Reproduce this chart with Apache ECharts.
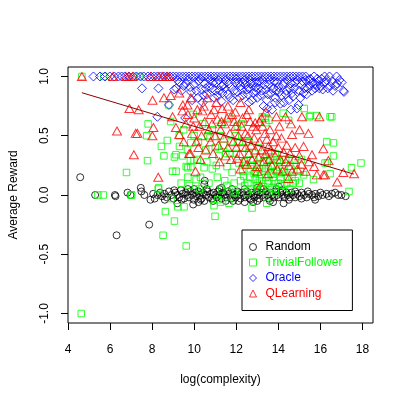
<!DOCTYPE html>
<html>
<head>
<meta charset="utf-8">
<script src="https://cdn.jsdelivr.net/npm/echarts@6/dist/echarts.min.js"></script>
<style>
  html, body { margin: 0; padding: 0; background: #fff; }
  #main { width: 407px; height: 407px; }
</style>
</head>
<body>
<div id="main"></div>
<script>
var xTicks = [4, 6, 8, 10, 12, 14, 16, 18];
var yTicks = [-1, -0.5, 0, 0.5, 1];
var seriesNames = ["Random", "TrivialFollower", "Oracle", "QLearning"];

// [log(complexity), average reward]
var randomPts = [
  [4.58,0.15],[5.29,0.00],[6.23,0.00],[6.26,-0.01],[6.31,-0.34],[6.83,0.02],[6.97,0.00],[7.46,0.06],
  [7.49,0.03],[7.63,0.00],[7.86,-0.25],[7.92,-0.04],[8.05,0.01],[8.12,-0.03],[8.25,0.00],[8.38,0.02],
  [8.47,-0.01],[8.58,0.01],[8.6,-0.04],[8.7,-0.02],[8.8,0.03],[8.92,0.00],[9.02,-0.03],[9.05,0.04],
  [9.1,0.02],[9.2,0.00],[9.2,-0.07],[9.29,-0.02],[9.37,0.04],[9.4,-0.04],[9.45,0.01],[9.52,-0.03],
  [9.6,0.02],[9.68,0.00],[9.7,0.05],[9.75,-0.02],[9.82,0.03],[9.9,0.00],[9.95,-0.08],[9.98,-0.04],
  [10.0,0.05],[10.05,0.02],[10.12,-0.01],[10.2,0.03],[10.2,-0.06],[10.27,0.00],[10.3,-0.04],[10.35,-0.03],
  [10.42,0.02],[10.48,-0.05],[10.48,0.09],[10.5,0.12],[10.56,0.00],[10.6,0.05],[10.63,0.03],[10.7,-0.02],
  [10.78,0.01],[10.85,-0.03],[10.9,-0.05],[10.92,0.02],[11.0,0.00],[11.07,-0.02],[11.14,0.03],[11.2,0.05],
  [11.22,0.00],[11.3,-0.03],[11.3,0.06],[11.37,0.02],[11.45,0.00],[11.5,-0.05],[11.52,-0.02],[11.6,0.03],
  [11.67,0.01],[11.75,-0.03],[11.8,0.05],[11.82,0.02],[11.85,-0.05],[11.9,0.00],[11.97,-0.02],[12.05,0.03],
  [12.1,-0.05],[12.12,0.00],[12.2,-0.03],[12.27,0.02],[12.35,0.00],[12.4,-0.06],[12.4,0.05],[12.42,-0.02],
  [12.5,0.03],[12.57,0.00],[12.65,-0.03],[12.7,-0.04],[12.72,0.02],[12.8,0.00],[12.8,-0.06],[12.87,-0.02],
  [12.95,0.03],[13.0,0.06],[13.0,-0.05],[13.02,0.00],[13.1,-0.03],[13.17,0.02],[13.25,0.00],[13.3,0.05],
  [13.32,-0.02],[13.4,0.03],[13.47,0.00],[13.55,-0.03],[13.6,-0.05],[13.62,0.02],[13.7,0.00],[13.75,-0.06],
  [13.8,-0.02],[13.87,0.03],[13.9,0.05],[13.95,0.00],[14.02,0.07],[14.02,-0.02],[14.1,0.02],[14.18,0.00],
  [14.2,0.04],[14.25,-0.07],[14.3,-0.02],[14.38,0.02],[14.45,0.00],[14.5,-0.04],[14.55,-0.02],[14.62,0.02],
  [14.7,0.00],[14.8,-0.02],[14.8,0.03],[14.9,0.01],[15.0,-0.01],[15.1,0.02],[15.1,-0.03],[15.22,0.00],
  [15.35,-0.02],[15.4,0.03],[15.45,0.01],[15.6,0.00],[15.7,-0.02],[15.75,-0.04],[15.75,0.01],[15.9,-0.01],
  [16.0,0.02],[16.1,0.00],[16.3,0.01],[16.4,-0.01],[16.54,0.01],[16.7,0.02],[16.85,0.00],[17.0,0.00],
  [17.2,-0.01]
];

var trivialPts = [
  [4.63,-1.0],[4.66,1.0],[5.42,0.0],[5.68,0.0],[5.7,1.0],[6.78,0.19],[6.99,0.0],[7.03,0.0],
  [7.4,1.0],[7.74,0.5],[7.78,0.29],[7.81,0.6],[8.29,0.05],[8.31,0.06],[8.44,0.41],[8.52,-0.34],
  [8.56,0.33],[8.63,-0.14],[8.72,0.46],[8.78,0.76],[8.88,0.62],[8.9,-0.03],[8.97,0.2],[9.06,0.32],
  [9.06,-0.22],[9.13,0.34],[9.14,0.2],[9.22,-0.1],[9.29,0.5],[9.3,0.41],[9.38,0.1],[9.44,0.33],
  [9.5,0.55],[9.52,-0.1],[9.62,0.24],[9.62,-0.43],[9.68,0.38],[9.69,0.23],[9.7,0.15],[9.76,0.08],
  [9.82,0.29],[9.84,0.44],[9.84,0.24],[9.95,0.68],[9.99,0.29],[10.0,0.5],[10.09,0.13],[10.15,0.3],
  [10.2,0.45],[10.25,0.05],[10.3,0.15],[10.38,0.07],[10.4,0.6],[10.47,0.23],[10.55,0.38],[10.6,0.28],
  [10.65,0.5],[10.7,0.1],[10.75,0.48],[10.86,0.22],[10.86,0.55],[10.94,-0.09],[10.99,-0.18],[11.0,0.4],
  [11.05,0.25],[11.1,0.15],[11.11,-0.04],[11.17,0.33],[11.25,0.5],[11.25,-0.06],[11.3,0.05],[11.3,0.6],
  [11.4,0.42],[11.45,0.12],[11.5,0.35],[11.55,0.08],[11.56,0.24],[11.65,0.66],[11.65,-0.07],[11.7,0.35],
  [11.75,0.45],[11.8,0.19],[11.85,0.02],[11.9,0.1],[11.95,0.5],[11.96,0.02],[12.0,0.35],[12.05,0.58],
  [12.12,0.27],[12.15,0.45],[12.2,0.12],[12.25,0.6],[12.3,0.4],[12.3,0.2],[12.35,0.16],[12.4,0.28],
  [12.4,0.08],[12.45,0.25],[12.51,0.02],[12.55,0.1],[12.6,0.35],[12.6,0.45],[12.65,0.15],[12.67,0.22],
  [12.7,0.05],[12.75,0.25],[12.75,-0.11],[12.8,0.3],[12.85,0.18],[12.9,0.13],[12.9,0.2],[12.95,0.08],
  [13.0,0.25],[13.0,0.1],[13.05,0.4],[13.1,0.12],[13.1,0.22],[13.15,0.32],[13.2,0.05],[13.22,0.17],
  [13.24,0.66],[13.3,0.07],[13.3,0.28],[13.35,0.2],[13.37,0.65],[13.4,0.61],[13.4,0.15],[13.45,0.02],
  [13.45,-0.07],[13.45,0.28],[13.5,0.1],[13.53,0.22],[13.53,0.36],[13.55,0.63],[13.55,0.12],[13.6,0.3],
  [13.65,0.18],[13.65,0.25],[13.7,0.06],[13.75,0.25],[13.75,0.15],[13.8,0.12],[13.85,0.35],[13.85,0.05],
  [13.86,0.02],[13.9,0.2],[13.95,0.3],[14.0,0.1],[14.05,0.28],[14.05,0.18],[14.1,0.15],[14.15,0.08],
  [14.2,0.22],[14.23,0.69],[14.25,0.2],[14.3,0.08],[14.35,0.3],[14.4,0.1],[14.45,0.15],[14.49,0.63],
  [14.5,0.3],[14.55,0.05],[14.6,0.22],[14.65,0.15],[14.7,0.1],[14.8,0.12],[14.85,0.25],[15.0,0.1],
  [15.04,0.2],[15.1,0.3],[15.2,0.17],[15.23,0.73],[15.48,0.66],[15.52,0.67],[15.67,0.13],[15.83,0.67],
  [16.22,0.27],[16.3,0.45],[16.33,0.27],[16.46,0.66],[16.46,0.18],[16.54,0.66],[16.62,0.44],[16.62,0.33],
  [17.36,0.03],[17.48,0.23],[17.93,0.27]
];

var oraclePts = [
  [5.21,1],[5.52,1],[5.76,1],[5.99,1],[6.2,1],[6.4,1],[6.55,1],[6.7,1],[6.9,1],[7.1,1],[7.25,1],
  [7.45,1],[7.6,1],[7.8,1],[7.95,1],[8.1,1],[8.25,1],[8.4,1],[8.55,1],[8.7,1],[8.85,1],[9.0,1],
  [9.15,1],[9.3,1],[9.45,1],[9.6,1],[9.75,1],[9.9,1],[10.05,1],[10.2,1],[10.35,1],[10.5,1],[10.65,1],
  [10.8,1],[10.95,1],[11.1,1],[11.25,1],[11.4,1],[11.55,1],[11.7,1],[11.85,1],[12.0,1],[12.15,1],
  [12.3,1],[12.45,1],[12.6,1],[12.75,1],[12.9,1],[13.05,1],[13.2,1],[13.35,1],[13.5,1],[13.65,1],
  [13.8,1],[13.95,1],[14.1,1],[14.25,1],[14.4,1],[14.55,1],[14.7,1],[14.85,1],[15.0,1],[15.15,1],
  [15.3,1],[15.52,0.98],[15.7,1],[16.2,1],[16.43,1],[16.77,1],
  [7.52,0.9],[8.3,0.9],[8.8,0.76],[8.25,0.66],[9.15,0.9],[9.05,0.89],[9.2,0.97],[9.3,0.95],[9.4,0.88],
  [9.5,0.92],[9.57,0.65],[9.6,0.94],[9.7,0.97],[9.8,0.91],[9.85,0.87],[9.9,0.8],[10.0,0.93],[10.1,0.88],
  [10.17,0.82],[10.2,0.96],[10.3,0.98],[10.35,0.89],[10.4,0.78],[10.45,0.84],[10.5,0.94],[10.55,0.9],
  [10.6,0.85],[10.7,0.92],[10.75,0.97],[10.85,0.9],[10.9,0.95],[10.95,0.82],[11.0,0.88],[11.05,0.95],
  [11.1,0.84],[11.15,0.97],[11.2,0.88],[11.3,0.79],[11.3,0.92],[11.35,0.86],[11.4,0.93],[11.45,0.9],
  [11.5,0.97],[11.6,0.85],[11.65,0.94],[11.7,0.82],[11.75,0.91],[11.85,0.8],[11.9,0.88],[11.95,0.95],
  [12.0,0.98],[12.05,0.87],[12.1,0.95],[12.15,0.82],[12.2,0.92],[12.25,0.89],[12.3,0.84],[12.3,0.95],
  [12.4,0.97],[12.45,0.93],[12.5,0.89],[12.55,0.85],[12.6,0.78],[12.6,0.9],[12.65,0.97],[12.7,0.94],
  [12.75,0.8],[12.8,0.86],[12.85,0.95],[12.9,0.91],[12.95,0.87],[13.0,0.82],[13.0,0.95],[13.05,0.9],
  [13.1,0.96],[13.15,0.84],[13.2,0.88],[13.25,0.97],[13.3,0.75],[13.35,0.93],[13.4,0.89],[13.45,0.8],
  [13.47,0.73],[13.5,0.85],[13.55,0.93],[13.6,0.97],[13.65,0.86],[13.7,0.72],[13.75,0.9],[13.8,0.96],
  [13.85,0.82],[13.85,0.78],[13.9,0.88],[13.95,0.95],[14.0,0.91],[14.05,0.87],[14.1,0.77],[14.15,0.84],
  [14.2,0.93],[14.26,0.78],[14.3,0.95],[14.35,0.85],[14.4,0.88],[14.45,0.97],[14.5,0.8],[14.55,0.9],
  [14.6,0.72],[14.6,0.94],[14.65,0.86],[14.7,0.83],[14.75,0.9],[14.8,0.95],[14.88,0.73],[14.9,0.97],
  [14.96,0.76],[15.0,0.88],[15.05,0.82],[15.1,0.93],[15.15,0.96],[15.2,0.86],[15.25,0.9],[15.3,0.97],
  [15.35,0.85],[15.4,0.9],[15.45,0.97],[15.5,0.92],[15.6,0.88],[15.65,0.95],[15.75,0.9],[15.8,0.93],
  [15.85,0.98],[15.9,0.96],[15.95,0.9],[16.0,0.92],[16.05,0.98],[16.11,0.89],[16.2,0.95],[16.3,0.97],
  [16.35,0.9],[16.46,0.92],[16.55,0.96],[16.6,0.88],[16.7,0.92],[16.8,0.94],[16.9,0.97],[17.01,0.95],
  [17.09,0.88],[17.12,0.87]
];

var qlearnPts = [
  [4.66,1],[6.14,1],[6.75,1],[6.9,1],[7.07,1],[7.92,1],[8.32,1],[8.5,1],[8.7,1],[8.81,1],
  [6.33,0.54],[6.92,0.73],[7.13,0.34],[7.22,0.52],[7.3,0.52],[7.36,0.72],[8.01,0.5],[8.02,0.8],
  [8.06,0.57],[8.29,0.15],[8.56,0.82],[8.88,0.84],[8.97,0.66],[9.13,0.57],[9.29,0.51],[9.29,0.86],
  [9.44,0.71],[9.46,0.76],[9.5,0.45],[9.6,0.6],[9.68,0.76],[9.7,0.68],[9.76,0.35],[9.82,0.35],
  [9.84,0.82],[9.9,0.52],[9.95,0.58],[10.0,0.65],[10.06,0.2],[10.1,0.45],[10.15,0.72],[10.2,0.4],
  [10.25,0.58],[10.3,0.3],[10.35,0.5],[10.39,0.71],[10.45,0.75],[10.5,0.62],[10.55,0.38],[10.62,0.82],
  [10.7,0.55],[10.78,0.45],[10.8,0.68],[10.85,0.6],[10.9,0.35],[10.94,0.72],[11.0,0.5],[11.05,0.78],
  [11.1,0.64],[11.15,0.42],[11.2,0.28],[11.25,0.55],[11.3,0.62],[11.33,0.73],[11.4,0.48],[11.45,0.6],
  [11.49,0.33],[11.56,0.65],[11.6,0.4],[11.6,0.75],[11.7,0.52],[11.75,0.3],[11.8,0.68],[11.85,0.45],
  [11.9,0.62],[11.95,0.7],[11.96,0.58],[12.0,0.4],[12.04,0.31],[12.1,0.5],[12.15,0.35],[12.2,0.78],
  [12.2,0.22],[12.25,0.58],[12.3,0.45],[12.3,0.65],[12.35,0.28],[12.43,0.52],[12.45,0.4],[12.5,0.68],
  [12.51,0.26],[12.55,0.5],[12.6,0.35],[12.6,0.72],[12.65,0.62],[12.7,0.42],[12.75,0.3],[12.8,0.58],
  [12.85,0.48],[12.9,0.61],[12.9,0.38],[12.95,0.55],[12.98,0.24],[13.0,0.2],[13.05,0.32],[13.1,0.45],
  [13.1,0.62],[13.14,0.08],[13.2,0.38],[13.2,0.65],[13.25,0.58],[13.3,0.28],[13.37,0.52],[13.4,0.35],
  [13.4,0.7],[13.45,0.47],[13.5,0.18],[13.53,0.41],[13.55,0.3],[13.6,0.55],[13.65,0.38],[13.7,0.25],
  [13.75,0.45],[13.85,0.33],[13.9,0.5],[13.91,0.66],[13.95,0.22],[14.0,0.4],[14.05,0.58],[14.1,0.3],
  [14.15,0.48],[14.2,0.2],[14.25,0.36],[14.34,0.66],[14.35,0.28],[14.4,0.42],[14.49,0.14],[14.5,0.25],
  [14.55,0.35],[14.6,0.6],[14.65,0.51],[14.65,0.2],[14.75,0.3],[14.8,0.4],[14.9,0.22],[15.0,0.33],
  [15.01,0.55],[15.1,0.26],[15.12,0.66],[15.2,0.41],[15.3,0.2],[15.43,0.52],[15.45,0.28],[15.6,0.34],
  [15.7,0.24],[15.83,0.17],[15.95,0.66],[16.14,0.39],[16.14,0.17],[16.22,0.17],[16.38,0.29],[16.8,0.11],
  [17.09,0.19],[17.6,0.18]
];

// fitted trend line for QLearning (end points)
var fitLine = [[4.66, 0.863], [17.59, 0.176]];

var font = "Liberation Sans, Arial, Helvetica, sans-serif";

function hollow(color) {
  return { color: "rgba(0,0,0,0)", borderColor: color, borderWidth: 1 };
}

var chartDom = document.getElementById("main");
var myChart = echarts.init(chartDom, null, { renderer: "canvas" });

var option = {
  animation: false,
  backgroundColor: "#fff",
  textStyle: { fontFamily: font },
  grid: {
    left: 67, right: 34, top: 67, bottom: 84,
    show: true, borderColor: "#000", borderWidth: 1
  },
  legend: {
    orient: "vertical",
    left: 242, top: 230,
    width: 111,
    padding: [11, 10, 11, 7],
    itemWidth: 7, itemHeight: 7, itemGap: 3.5,
    itemStyle: { borderWidth: 1 },
    borderColor: "#000", borderWidth: 1,
    backgroundColor: "#fff",
    data: [
      { name: seriesNames[0], textStyle: { color: "#000" } },
      { name: seriesNames[1], textStyle: { color: "#00ff00" } },
      { name: seriesNames[2], textStyle: { color: "#0000ff" } },
      { name: seriesNames[3], textStyle: { color: "#ff0000" } }
    ],
    textStyle: { fontFamily: font, fontSize: 12, lineHeight: 12, padding: [0, 0, 0, 4] }
  },
  xAxis: {
    type: "value",
    min: 4, max: 18.5,
    name: "log(complexity)",
    nameLocation: "middle",
    nameGap: 51,
    nameTextStyle: { color: "#000", fontSize: 12, fontFamily: font },
    axisLine: { show: false, onZero: false },
    axisTick: { show: true, length: 7, customValues: xTicks, lineStyle: { color: "#000" } },
    axisLabel: { customValues: xTicks, margin: 21, color: "#000", fontSize: 12, fontFamily: font },
    splitLine: { show: false }
  },
  yAxis: {
    type: "value",
    min: -1.08, max: 1.08,
    name: "Average Reward",
    nameLocation: "middle",
    nameRotate: 90,
    nameGap: 48,
    nameTextStyle: { color: "#000", fontSize: 12, fontFamily: font },
    axisLine: { show: false, onZero: false },
    axisTick: { show: true, length: 7, customValues: yTicks, lineStyle: { color: "#000" } },
    axisLabel: {
      customValues: yTicks, margin: 17, rotate: 90, color: "#000", fontSize: 12, fontFamily: font,
      formatter: function (v) { return v.toFixed(1); }
    },
    splitLine: { show: false }
  },
  series: [
    {
      name: seriesNames[0], type: "scatter", symbol: "circle", symbolSize: 7,
      itemStyle: hollow("#000000"), data: randomPts
    },
    {
      name: seriesNames[1], type: "scatter", symbol: "rect", symbolSize: 6.5,
      itemStyle: hollow("#00ff00"), data: trivialPts
    },
    {
      name: seriesNames[2], type: "scatter", symbol: "diamond", symbolSize: 9,
      itemStyle: hollow("#0000ff"), data: oraclePts
    },
    {
      name: seriesNames[3], type: "scatter", symbol: "triangle", symbolSize: [9, 8],
      itemStyle: hollow("#ff0000"), data: qlearnPts
    },
    {
      type: "line", data: fitLine, symbol: "none", silent: true,
      lineStyle: { color: "#8b0000", width: 1 }, z: 5
    }
  ]
};

option && myChart.setOption(option);
</script>
</body>
</html>
